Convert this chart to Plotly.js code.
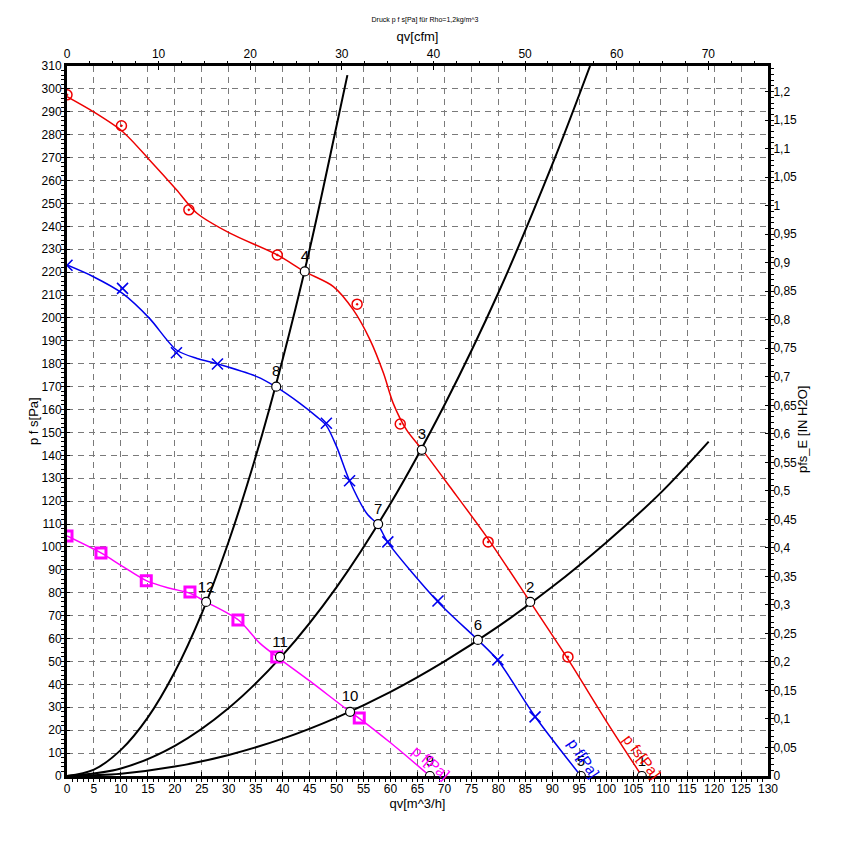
<!DOCTYPE html>
<html>
<head>
<meta charset="utf-8">
<script src="https://cdn.plot.ly/plotly-3.0.1.min.js"></script>
<style>html,body{margin:0;padding:0;background:#fff;}#chart{width:850px;height:852px;}</style>
</head>
<body>
<div id="chart"></div>
<script>
// ---- data (qv in m^3/h, pressure in Pa) ----
var redLineQ = [0,4.9,10.3,15.3,20.3,24.1,30.2,39,44.1,49.4,53.1,56.2,58.7,60.5,63,65.9,71,77.8,85.9,92.9,100,106.6];
var redLineP = [296.6,290,281.4,269,256,245.7,237,227.5,220.2,213.7,203.5,190.4,175.8,162.7,151,142.4,126.3,104.5,76,51,24,0];
var redPtsQ = [0,10.1,22.6,39,53.8,61.8,78.1,92.9];
var redPtsP = [297.4,283.9,247.2,227.5,206,153.7,102.2,52];

var blueLineQ = [0,4.9,10.3,15.3,20.3,24.1,28,35.2,38.7,43.2,46.3,48.1,50,52.4,55.6,57.7,59.5,68.8,76.2,79.9,86.8,95.3];
var blueLineP = [223.1,218,210.7,199.8,186,182.3,179.9,174.4,170,162.7,156.9,153,143.8,128.9,114.6,109.6,102,76,59.4,50.5,26,0];
var bluePtsQ = [0,10.3,20.3,27.9,48.1,52.4,59.5,68.8,79.9,86.8];
var bluePtsP = [223,212.9,184.8,179.9,154,128.9,102.2,76.4,50.7,25.8];

var magLineQ = [0,6.3,10,14.7,19,22.8,25.8,31.8,35.8,39.2,45,52.5,54.2,60,67.3];
var magLineP = [104.8,97.4,92,85.3,82,79.8,76,68.1,57.9,51.6,41.5,28,25.2,14.5,0];
var magPtsQ = [0,6.3,14.7,22.8,31.7,38.9,54.2];
var magPtsP = [104.8,97.4,85.2,80.3,68.1,52,25.3];

var sys1Q = [0,5,10,15,20,25,30,35,40,45,50,52];
var sys1P = [0,2.8,11.4,25.6,45.5,71,102.5,139.5,182,230,284,306];
var sys2Q = [0,10,20,30,40,50,60,70,80,90,97];
var sys2P = [0,3.3,13.2,29.7,52.8,82.5,119,162,211,267,310];
var sys3Q = [0,10,20,30,40,50,60,70,80,90,100,110,119];
var sys3P = [0,1,4.1,9.2,16.3,25.5,36.7,50,65.3,82.6,102,123.4,146];

var opQ = [106.6,85.9,65.8,44.1,95.3,76.2,57.7,38.8,67.3,52.5,39.5,25.8];
var opP = [0,76,142.4,220.3,0,59.4,110,170,0,28,52,76];
var opLabels = ['1','2','3','4','5','6','7','8','9','10','11','12'];

var curveLabels = ['p fs[Pa]','p f[Pa]','p f[Pa]'];
var curveLabelQ = [106.6,95.7,67.5];
var curveLabelP = [8.3,7.9,5.7];

var titleText = 'Druck p f s[Pa] für Rho=1,2kg/m^3';
var xTitle = 'qv[m^3/h]';
var x2Title = 'qv[cfm]';
var yTitle = 'p f s[Pa]';
var y2Title = 'pfs_E [IN H2O]';

var M3H_PER_CFM = 1.699;
var PA_PER_INH2O = 249;
var qMax = 130, pMax = 310;

var FONT = 'Liberation Sans, Arial, sans-serif';

var traces = [
  {x: sys1Q, y: sys1P, mode:'lines', line:{color:'#000', width:2, shape:'spline'}, hoverinfo:'skip'},
  {x: sys2Q, y: sys2P, mode:'lines', line:{color:'#000', width:2, shape:'spline'}, hoverinfo:'skip'},
  {x: sys3Q, y: sys3P, mode:'lines', line:{color:'#000', width:2, shape:'spline'}, hoverinfo:'skip'},
  {x: redLineQ, y: redLineP, mode:'lines', line:{color:'#ee0000', width:1.5, shape:'spline', smoothing:0.8}},
  {x: redPtsQ, y: redPtsP, mode:'markers', marker:{symbol:'circle-open-dot', size:10, color:'#ee0000', line:{width:1.5, color:'#ee0000'}}},
  {x: blueLineQ, y: blueLineP, mode:'lines', line:{color:'#0000ee', width:1.5, shape:'spline', smoothing:0.8}},
  {x: bluePtsQ, y: bluePtsP, mode:'markers', marker:{symbol:'x-thin', size:11, color:'#0000ee', line:{width:1.6, color:'#0000ee'}}},
  {x: magLineQ, y: magLineP, mode:'lines', line:{color:'#ff00ff', width:1.5, shape:'spline', smoothing:0.8}},
  {x: magPtsQ, y: magPtsP, mode:'markers', marker:{symbol:'square-open', size:10, color:'#ff00ff', line:{width:3, color:'#ff00ff'}}},
  {x: opQ, y: opP, mode:'markers+text', text: opLabels, textposition:'top center',
   textfont:{family:FONT, size:15, color:'#000'},
   marker:{symbol:'circle', size:9, color:'#fff', line:{width:1.2, color:'#000'}}},
  {x: [0], y: [0], xaxis:'x2', yaxis:'y2', mode:'markers', marker:{opacity:0}, hoverinfo:'skip'}
];

var annColors = ['#ee0000','#0000ee','#ff00ff'];
var annAngles = [53, 56, 40];
var annotations = curveLabels.map(function(t,i){
  return {x: curveLabelQ[i], y: curveLabelP[i], xref:'x', yref:'y', text:t, showarrow:false,
          textangle: annAngles[i], font:{family:FONT, size:15, color:annColors[i]}};
});
// axis titles on left / right placed as paper annotations
annotations.push({xref:'paper', yref:'paper', x:(33-67)/701, y:0.5, text:yTitle, showarrow:false, textangle:-90,
                  xanchor:'center', yanchor:'middle', font:{family:FONT, size:13, color:'#000'}});
annotations.push({xref:'paper', yref:'paper', x:(802-67)/701, y:(776-430)/710, text:y2Title, showarrow:false, textangle:-90,
                  xanchor:'center', yanchor:'middle', font:{family:FONT, size:13, color:'#000'}});

var gridDash = '6px,5px';
var TF = {size:12};
var layout = {
  width: 850, height: 852,
  margin: {l:67, r:82, t:66, b:76},
  paper_bgcolor:'#fff', plot_bgcolor:'#fff',
  showlegend:false,
  separators: ',.',
  font:{family:FONT, size:13, color:'#000'},
  title:{text:titleText, font:{family:FONT, size:7, color:'#000'}, x:0.5, xanchor:'center', y:0.977, yanchor:'middle'},
  xaxis:{range:[0,qMax], dtick:5, tick0:0, showgrid:true, gridcolor:'#7a7a7a', griddash:gridDash, gridwidth:1,
         zeroline:false, showline:true, linewidth:3, linecolor:'#000', ticks:'inside', ticklen:4, tickcolor:'#000',
         minor:{dtick:1, ticklen:3, tickcolor:'#000', showgrid:false},
         tickfont:TF, title:{text:xTitle, font:{size:13}, standoff:2}},
  xaxis2:{overlaying:'x', side:'top', range:[0, qMax/M3H_PER_CFM], dtick:10, tick0:0, showgrid:false, zeroline:false,
          showline:true, linewidth:3, linecolor:'#000', ticks:'inside', ticklen:4, tickcolor:'#000',
          minor:{dtick:2.5, ticklen:2, tickcolor:'#000', showgrid:false},
          tickfont:TF, title:{text:x2Title, font:{size:13}, standoff:3}},
  yaxis:{range:[0,pMax], dtick:10, tick0:0, showgrid:true, gridcolor:'#7a7a7a', griddash:gridDash, gridwidth:1,
         zeroline:false, showline:true, linewidth:3, linecolor:'#000', ticks:'inside', ticklen:3, tickcolor:'#000',
         minor:{dtick:2, ticklen:3, tickcolor:'#000', showgrid:false},
         tickfont:TF},
  yaxis2:{overlaying:'y', side:'right', range:[0, pMax/PA_PER_INH2O], dtick:0.05, tick0:0, showgrid:false, zeroline:false,
          showline:true, linewidth:3, linecolor:'#000', ticks:'inside', ticklen:3, tickcolor:'#000',
          minor:{dtick:0.01, ticklen:3, tickcolor:'#000', showgrid:false},
          tickfont:TF},
  annotations: annotations
};

Plotly.newPlot('chart', traces, layout, {displayModeBar:false, staticPlot:true});
</script>
</body>
</html>
